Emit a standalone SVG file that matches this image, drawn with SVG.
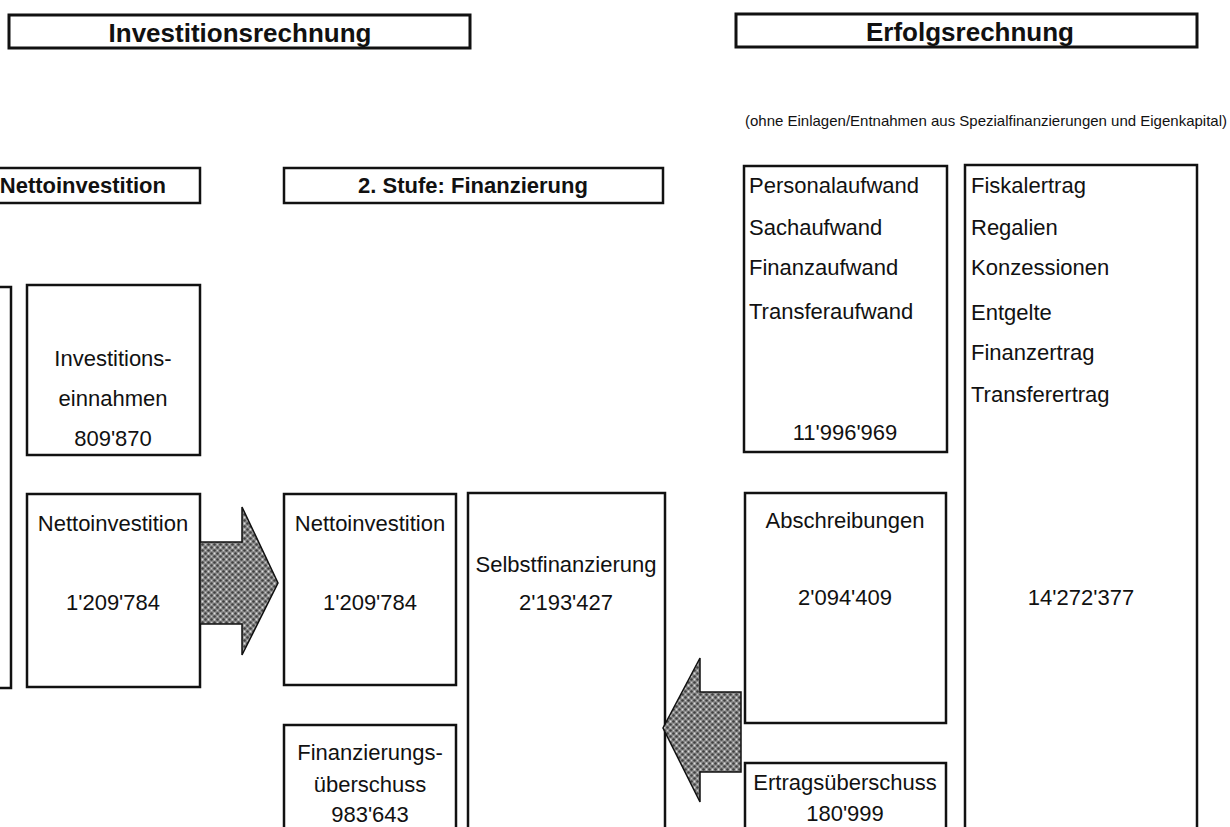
<svg xmlns="http://www.w3.org/2000/svg" width="1230" height="827" viewBox="0 0 1230 827">
<style>
.box{fill:#fff;stroke:#111;stroke-width:2.5}
.tbox{fill:#fff;stroke:#111;stroke-width:3}
.t{font-family:"Liberation Sans",Arial,sans-serif;font-size:22px;fill:#111}
.c{text-anchor:middle}
.b{font-weight:bold}
.arrow{fill:url(#stip);stroke:#111;stroke-width:1.5}
</style>
<defs>
<pattern id="stip" width="6" height="6" patternUnits="userSpaceOnUse">
<rect width="6" height="6" fill="#8e8e8e"/>
<circle cx="1.5" cy="1.5" r="1.3" fill="#404040"/>
<circle cx="4.5" cy="4.5" r="1.3" fill="#404040"/>
<circle cx="4.5" cy="1.5" r="0.9" fill="#dcdcdc"/>
<circle cx="1.5" cy="4.5" r="0.7" fill="#c8c8c8"/>
</pattern>
</defs>

<g id="title-invest">
<rect class="tbox" x="9" y="15" width="461" height="33"/>
<text class="t b c" x="240" y="42" style="font-size:26px">Investitionsrechnung</text>
</g>
<g id="title-erfolg">
<rect class="tbox" x="736" y="14" width="461" height="33"/>
<text class="t b c" x="970" y="41" style="font-size:26px">Erfolgsrechnung</text>
</g>
<text class="t" x="1227" y="126" style="font-size:15px;text-anchor:end">(ohne Einlagen/Entnahmen aus Spezialfinanzierungen und Eigenkapital)</text>

<g id="hdr-netto">
<rect class="box" x="-5" y="168" width="205" height="35"/>
<text class="t b" x="166" y="193" style="text-anchor:end">Nettoinvestition</text>
</g>
<g id="hdr-fin">
<rect class="box" x="284" y="168" width="379" height="35"/>
<text class="t b c" x="473" y="193">2. Stufe: Finanzierung</text>
</g>

<g id="left-cut">
<rect class="box" x="-5" y="287" width="16" height="401"/>
</g>

<g id="invest-einnahmen">
<rect class="box" x="27" y="285" width="173" height="170"/>
<text class="t c" x="113" y="366">Investitions-</text>
<text class="t c" x="113" y="406">einnahmen</text>
<text class="t c" x="113" y="446">809'870</text>
</g>

<g id="netto1">
<rect class="box" x="27" y="494" width="173" height="193"/>
<text class="t c" x="113" y="531">Nettoinvestition</text>
<text class="t c" x="113" y="610">1'209'784</text>
</g>

<g id="netto2">
<rect class="box" x="284" y="494" width="172" height="191"/>
<text class="t c" x="370" y="531">Nettoinvestition</text>
<text class="t c" x="370" y="610">1'209'784</text>
</g>

<g id="selbstfin">
<rect class="box" x="468" y="493" width="197" height="340"/>
<text class="t c" x="566" y="572">Selbstfinanzierung</text>
<text class="t c" x="566" y="610">2'193'427</text>
</g>

<g id="fin-ueberschuss">
<rect class="box" x="284" y="725" width="172" height="110"/>
<text class="t c" x="370" y="760">Finanzierungs-</text>
<text class="t c" x="370" y="792">überschuss</text>
<text class="t c" x="370" y="822">983'643</text>
</g>

<g id="aufwand">
<rect class="box" x="744" y="166" width="203" height="286"/>
<text class="t" x="749" y="193">Personalaufwand</text>
<text class="t" x="749" y="235">Sachaufwand</text>
<text class="t" x="749" y="275">Finanzaufwand</text>
<text class="t" x="749" y="319">Transferaufwand</text>
<text class="t c" x="845" y="440">11'996'969</text>
</g>

<g id="abschreibungen">
<rect class="box" x="745" y="493" width="201" height="230"/>
<text class="t c" x="845" y="528">Abschreibungen</text>
<text class="t c" x="845" y="605">2'094'409</text>
</g>

<g id="ertragsueberschuss">
<rect class="box" x="745" y="763" width="201" height="72"/>
<text class="t c" x="845" y="790">Ertragsüberschuss</text>
<text class="t c" x="845" y="821">180'999</text>
</g>

<g id="ertrag">
<rect class="box" x="965" y="165" width="232" height="670"/>
<text class="t" x="971" y="193">Fiskalertrag</text>
<text class="t" x="971" y="235">Regalien</text>
<text class="t" x="971" y="275">Konzessionen</text>
<text class="t" x="971" y="320">Entgelte</text>
<text class="t" x="971" y="360">Finanzertrag</text>
<text class="t" x="971" y="402">Transferertrag</text>
<text class="t c" x="1081" y="605">14'272'377</text>
</g>

<g id="connectors">
<path class="arrow" d="M200,542 L242,542 L242,507 L278,583 L242,655 L242,624 L200,624 Z"/>
<path class="arrow" d="M741,692 L700,692 L700,658 L663,728 L700,802 L700,772 L741,772 Z"/>
</g>
</svg>
